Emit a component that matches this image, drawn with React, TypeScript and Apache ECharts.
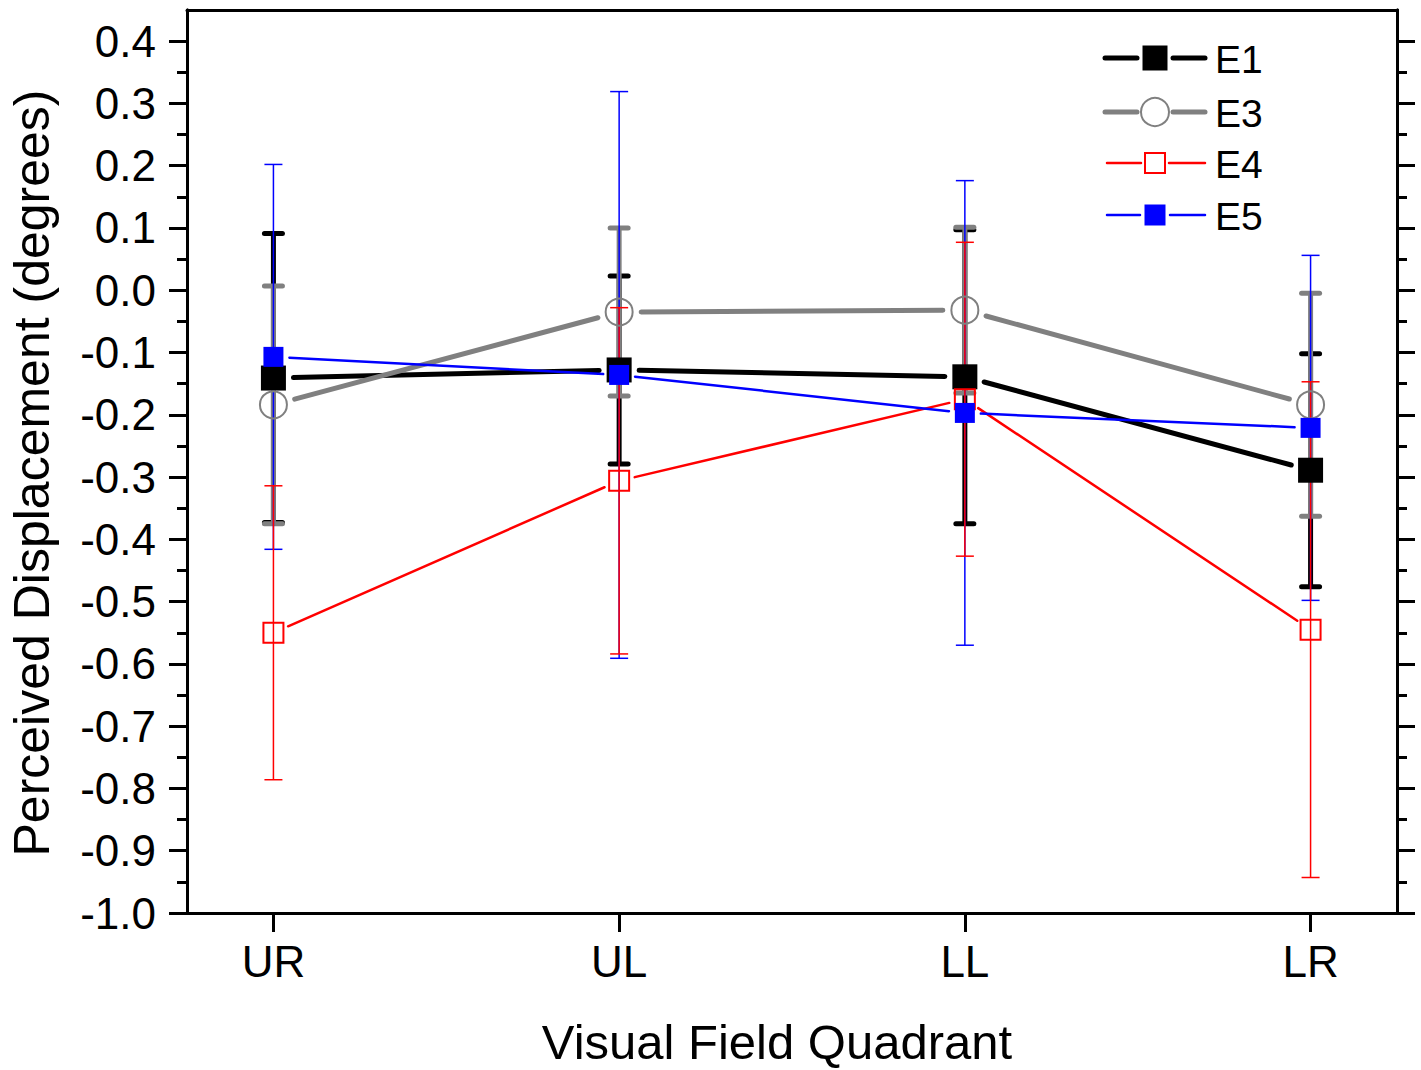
import React, { useEffect, useRef } from "react";
import * as echarts from "echarts";

const categories = ["UR", "UL", "LL", "LR"];
const xPos = [1, 2, 3, 4];

const e1Mean = [-0.141, -0.128, -0.139, -0.289];
const e1Err = [0.232, 0.151, 0.236, 0.187];
const e3Mean = [-0.184, -0.035, -0.032, -0.184];
const e3Err = [0.191, 0.135, 0.133, 0.179];
const e4Mean = [-0.55, -0.306, -0.175, -0.545];
const e4Err = [0.236, 0.278, 0.252, 0.398];
const e5Mean = [-0.107, -0.136, -0.197, -0.221];
const e5Err = [0.309, 0.455, 0.373, 0.277];

const yMajorTicks = [-1.0, -0.9, -0.8, -0.7, -0.6, -0.5, -0.4, -0.3, -0.2, -0.1, 0.0, 0.1, 0.2, 0.3, 0.4];
const yMinorTicks = [-0.95, -0.85, -0.75, -0.65, -0.55, -0.45, -0.35, -0.25, -0.15, -0.05, 0.05, 0.15, 0.25, 0.35];

const FONT = "'Liberation Sans', Arial, sans-serif";

function segSeries(means: number[], color: string, width: number, gap: number) {
  const data = means.slice(0, -1).map((m, i) => [xPos[i], m, xPos[i + 1], means[i + 1]]);
  return {
    type: "custom",
    silent: true,
    data,
    encode: { x: [0, 2], y: [1, 3] },
    renderItem: (_p: any, api: any) => {
      const a = api.coord([api.value(0), api.value(1)]);
      const b = api.coord([api.value(2), api.value(3)]);
      const dx = b[0] - a[0];
      const dy = b[1] - a[1];
      const L = Math.hypot(dx, dy) || 1;
      const ux = dx / L;
      const uy = dy / L;
      return {
        type: "line",
        shape: { x1: a[0] + ux * gap, y1: a[1] + uy * gap, x2: b[0] - ux * gap, y2: b[1] - uy * gap },
        style: { stroke: color, lineWidth: width, lineCap: "round" },
      };
    },
  };
}

function errSeries(means: number[], errs: number[], color: string, width: number, capHalf: number, round: boolean) {
  const data = means.map((m, i) => [xPos[i], m, errs[i]]);
  return {
    type: "custom",
    silent: true,
    data,
    encode: { x: 0, y: 1 },
    renderItem: (_p: any, api: any) => {
      const x = api.value(0);
      const m = api.value(1);
      const e = api.value(2);
      const t = api.coord([x, m + e]);
      const b = api.coord([x, m - e]);
      const style = { stroke: color, lineWidth: width, lineCap: round ? "round" : "butt" };
      return {
        type: "group",
        children: [
          { type: "line", shape: { x1: t[0], y1: t[1], x2: b[0], y2: b[1] }, style: { ...style, lineCap: "butt" } },
          { type: "line", shape: { x1: t[0] - capHalf, y1: t[1], x2: t[0] + capHalf, y2: t[1] }, style },
          { type: "line", shape: { x1: b[0] - capHalf, y1: b[1], x2: b[0] + capHalf, y2: b[1] }, style },
        ],
      };
    },
  };
}

function markerSeries(means: number[], symbol: string, size: number, fill: string, border: string, bw: number) {
  return {
    type: "scatter",
    silent: true,
    data: means.map((m, i) => [xPos[i], m]),
    symbol,
    symbolSize: size,
    itemStyle: { color: fill, borderColor: border, borderWidth: bw, opacity: 1 },
  };
}

function legendRow(y: number, color: string, lw: number, l1: number[], l2: number[], marker: any, label: string) {
  return [
    { type: "line", shape: { x1: l1[0], y1: y, x2: l1[1], y2: y }, style: { stroke: color, lineWidth: lw, lineCap: "round" } },
    { type: "line", shape: { x1: l2[0], y1: y, x2: l2[1], y2: y }, style: { stroke: color, lineWidth: lw, lineCap: "round" } },
    marker,
    {
      type: "text",
      x: 1215,
      y: y + 1,
      style: { text: label, font: `39px ${FONT}`, fill: "#000", textAlign: "left", textVerticalAlign: "middle" },
    },
  ];
}

export default function App() {
  const ref = useRef<HTMLDivElement>(null);
  useEffect(() => {
    document.body.style.margin = "0";
    const chart = echarts.init(ref.current!, null, { renderer: "svg" });
    const axisLine = { show: true, onZero: false, lineStyle: { color: "#000", width: 3 } };
    const yBase = { type: "value", min: -1.0, max: 0.45, splitLine: { show: false }, axisLine };
    const option: any = {
      animation: false,
      backgroundColor: "#fff",
      grid: { left: 187, right: 24, top: 10, bottom: 157 },
      xAxis: [
        {
          type: "value",
          position: "bottom",
          min: 0.75,
          max: 4.25,
          splitLine: { show: false },
          axisLine,
          axisTick: { show: true, customValues: xPos, length: 19, inside: false, lineStyle: { color: "#000", width: 3 } },
          axisLabel: {
            show: true,
            customValues: xPos,
            margin: 26,
            fontSize: 44,
            fontFamily: FONT,
            color: "#000",
            formatter: (v: number) => categories[Math.round(v) - 1] ?? "",
          },
        },
        {
          type: "value",
          position: "top",
          min: 0.75,
          max: 4.25,
          splitLine: { show: false },
          axisLine,
          axisTick: { show: false },
          axisLabel: { show: false },
        },
      ],
      yAxis: [
        {
          ...yBase,
          position: "left",
          axisTick: { show: true, customValues: yMajorTicks, length: 18, lineStyle: { color: "#000", width: 3 } },
          axisLabel: {
            show: true,
            customValues: yMajorTicks,
            margin: 31,
            fontSize: 44,
            fontFamily: FONT,
            color: "#000",
            formatter: (v: number) => v.toFixed(1),
          },
        },
        {
          ...yBase,
          position: "left",
          axisTick: { show: true, customValues: yMinorTicks, length: 10, lineStyle: { color: "#000", width: 3 } },
          axisLabel: { show: false },
        },
        {
          ...yBase,
          position: "right",
          axisTick: { show: true, customValues: yMajorTicks, length: 18, lineStyle: { color: "#000", width: 3 } },
          axisLabel: { show: false },
        },
        {
          ...yBase,
          position: "right",
          axisTick: { show: true, customValues: yMinorTicks, length: 10, lineStyle: { color: "#000", width: 3 } },
          axisLabel: { show: false },
        },
      ],
      series: [
        segSeries(e1Mean, "#000000", 5, 20),
        errSeries(e1Mean, e1Err, "#000000", 5, 9, true),
        markerSeries(e1Mean, "rect", 25, "#000000", "#000000", 0),
        segSeries(e3Mean, "#808080", 5, 22),
        errSeries(e3Mean, e3Err, "#808080", 5, 9, true),
        markerSeries(e3Mean, "circle", 27, "rgba(0,0,0,0)", "#808080", 2),
        segSeries(e4Mean, "#ff0000", 2.5, 16),
        markerSeries(e4Mean, "rect", 20, "rgba(0,0,0,0)", "#ff0000", 2),
        segSeries(e5Mean, "#0000ff", 2.5, 16),
        errSeries(e5Mean, e5Err, "#0000ff", 1.5, 9, false),
        markerSeries(e5Mean, "rect", 20, "#0000ff", "#0000ff", 0),
        errSeries(e4Mean, e4Err, "#ff0000", 1.5, 9, false),
      ],
      graphic: [
        ...legendRow(58, "#000000", 5, [1105, 1137], [1173, 1205],
          { type: "rect", shape: { x: 1142.5, y: 45.5, width: 25, height: 25 }, style: { fill: "#000" } }, "E1"),
        ...legendRow(112, "#808080", 5, [1105, 1137], [1173, 1205],
          { type: "circle", shape: { cx: 1155, cy: 112, r: 14 }, style: { fill: "none", stroke: "#808080", lineWidth: 2 } }, "E3"),
        ...legendRow(163, "#ff0000", 2.5, [1107, 1141], [1169, 1205],
          { type: "rect", shape: { x: 1145, y: 153, width: 20, height: 20 }, style: { fill: "none", stroke: "#ff0000", lineWidth: 2 } }, "E4"),
        ...legendRow(215, "#0000ff", 2.5, [1107, 1140], [1170, 1205],
          { type: "rect", shape: { x: 1144.5, y: 204.5, width: 21, height: 21 }, style: { fill: "#0000ff" } }, "E5"),
        {
          type: "text",
          x: 32,
          y: 473,
          rotation: Math.PI / 2,
          style: {
            text: "Perceived Displacement (degrees)",
            font: `50px ${FONT}`,
            fill: "#000",
            textAlign: "center",
            textVerticalAlign: "middle",
          },
        },
        {
          type: "text",
          x: 777,
          y: 1042,
          style: {
            text: "Visual Field Quadrant",
            font: `49px ${FONT}`,
            fill: "#000",
            textAlign: "center",
            textVerticalAlign: "middle",
          },
        },
      ],
    };
    chart.setOption(option);
    return () => chart.dispose();
  }, []);
  return <div ref={ref} style={{ position: "fixed", left: 0, top: 0, width: 1421, height: 1070 }} />;
}
